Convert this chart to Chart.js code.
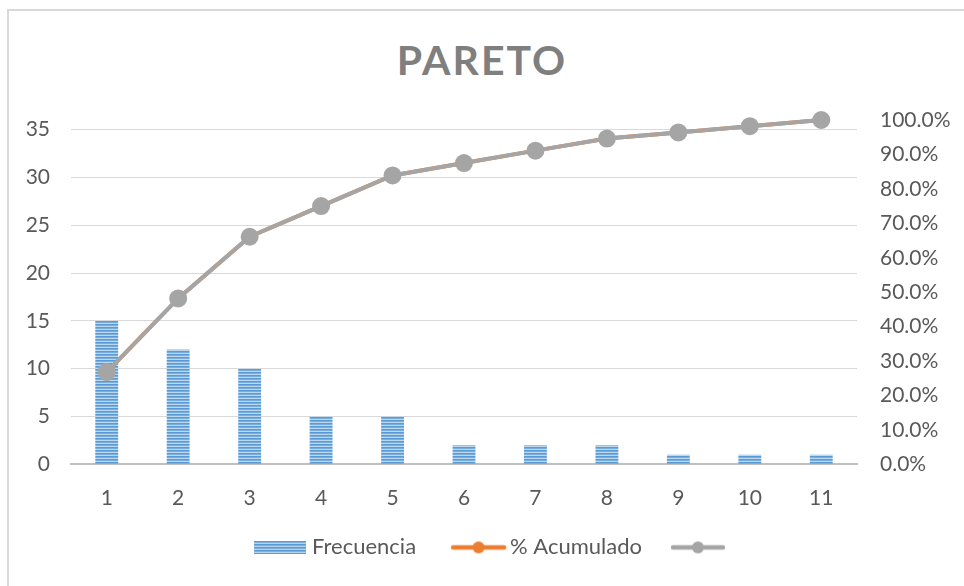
<!DOCTYPE html>
<html>
<head>
<meta charset="utf-8">
<title>PARETO</title>
<script src="https://cdn.jsdelivr.net/npm/chart.js@4.4.1/dist/chart.umd.min.js"></script>
<style>
  html, body { margin: 0; padding: 0; background: #ffffff; }
  #wrap { position: relative; width: 964px; height: 586px; overflow: hidden; }
  #frame { position: absolute; left: 7px; top: 9px; width: 1200px; height: 900px;
    border-left: 2px solid #d9d9d9; border-top: 2px solid #d9d9d9; }
  #title { position: absolute; left: 0; top: 32px; width: 964px; text-align: center;
    font-family: Lato, "Open Sans", sans-serif; font-weight: bold; font-size: 41px;
    letter-spacing: 2px; color: #7f7f7f; margin: 0; line-height: 56px; }
  #chart { position: absolute; left: 0; top: 0; }
</style>
</head>
<body>
<div id="wrap">
  <div id="frame"></div>
  <h1 id="title">PARETO</h1>
  <canvas id="chart" width="964" height="586"></canvas>
</div>
<script>
  var categories = ["1", "2", "3", "4", "5", "6", "7", "8", "9", "10", "11"];
  var frecuencia = [15, 12, 10, 5, 5, 2, 2, 2, 1, 1, 1];
  var acumulado = [0.268, 0.482, 0.661, 0.75, 0.839, 0.875, 0.911, 0.946, 0.964, 0.982, 1.0];
  var leftTicks = [0, 5, 10, 15, 20, 25, 30, 35];

  var FONT = "Lato, 'Open Sans', sans-serif";
  var TEXT = "#595959";

  function stripePattern(ctx) {
    var c = document.createElement("canvas");
    c.width = 4;
    c.height = 3;
    var g = c.getContext("2d");
    g.fillStyle = "#5b9bd5";
    g.fillRect(0, 0, 4, 1);
    g.fillStyle = "#78ade0";
    g.fillRect(0, 1, 4, 1);
    g.fillStyle = "#bdd7ee";
    g.fillRect(0, 2, 4, 1);
    return ctx.createPattern(c, "repeat");
  }

  // legend icons: transparent room on the left so spacing looks like Excel's
  function barIcon(w, start) {
    var c = document.createElement("canvas");
    c.width = w;
    c.height = 13;
    var g = c.getContext("2d");
    g.fillStyle = stripePattern(g);
    g.fillRect(start, 0, w - start, 13);
    return c;
  }

  function lineIcon(color, w, start) {
    var c = document.createElement("canvas");
    c.width = w;
    c.height = 14;
    var g = c.getContext("2d");
    g.strokeStyle = color;
    g.lineWidth = 4.5;
    g.lineCap = "round";
    g.beginPath();
    g.moveTo(start + 3, 7);
    g.lineTo(w - 3, 7);
    g.stroke();
    g.fillStyle = color;
    g.beginPath();
    g.arc((start + w) / 2, 7, 6, 0, Math.PI * 2);
    g.fill();
    return c;
  }

  var canvas = document.getElementById("chart");
  var ctx = canvas.getContext("2d");
  var barFill = stripePattern(ctx);

  new Chart(canvas, {
    data: {
      labels: categories,
      datasets: [
        {
          type: "bar",
          label: "Frecuencia",
          data: frecuencia,
          backgroundColor: barFill,
          borderWidth: 0,
          barPercentage: 0.32,
          categoryPercentage: 1,
          yAxisID: "y",
          order: 3,
        },
        {
          type: "line",
          label: "% Acumulado",
          data: acumulado,
          borderColor: "#ed7d31",
          backgroundColor: "#ed7d31",
          borderWidth: 4,
          pointRadius: 6,
          tension: 0,
          clip: false,
          yAxisID: "y1",
          order: 2,
        },
        {
          type: "line",
          label: "",
          data: acumulado,
          borderColor: "#a5a5a5",
          backgroundColor: "#a5a5a5",
          borderWidth: 4,
          pointRadius: 7,
          tension: 0,
          clip: false,
          yAxisID: "y1",
          order: 1,
        },
      ],
    },
    options: {
      responsive: false,
      animation: false,
      events: [],
      layout: { padding: { top: 120, left: 0, right: 0, bottom: 17.6 } },
      scales: {
        x: {
          grid: { display: false, drawTicks: false },
          border: { display: true, color: "#bfbfbf", width: 2 },
          ticks: { color: TEXT, font: { family: FONT, size: 21 }, padding: 21 },
          afterFit: function (s) { s.height = 62; },
        },
        y: {
          position: "left",
          min: 0,
          max: 36,
          grid: { color: "#d9d9d9", lineWidth: 1, drawTicks: false },
          border: { display: false },
          ticks: { color: TEXT, font: { family: FONT, size: 21 }, padding: 21 },
          afterBuildTicks: function (s) {
            s.ticks = leftTicks.map(function (v) { return { value: v }; });
          },
          afterFit: function (s) { s.width = 71; },
        },
        y1: {
          position: "right",
          min: 0,
          max: 1,
          grid: { display: false, drawTicks: false },
          border: { display: false },
          ticks: {
            stepSize: 0.1,
            color: TEXT,
            font: { family: FONT, size: 21 },
            padding: 23,
            callback: function (v) { return (v * 100).toFixed(1) + "%"; },
          },
          afterFit: function (s) { s.width = 107; },
        },
      },
      plugins: {
        title: { display: false },
        tooltip: { enabled: false },
        legend: {
          position: "bottom",
          labels: {
            color: TEXT,
            font: { family: FONT, size: 22 },
            usePointStyle: true,
            pointStyleWidth: 73,
            padding: 10,
            generateLabels: function () {
              return [
                { text: "Frecuencia", pointStyle: barIcon(83, 31), fontColor: TEXT, lineWidth: 0, hidden: false, datasetIndex: 0 },
                { text: "% Acumulado", pointStyle: lineIcon("#ed7d31", 89, 32), fontColor: TEXT, lineWidth: 0, hidden: false, datasetIndex: 1 },
                { text: "", pointStyle: lineIcon("#a5a5a5", 75, 19), fontColor: TEXT, lineWidth: 0, hidden: false, datasetIndex: 2 },
              ];
            },
          },
        },
      },
    },
  });
</script>
</body>
</html>
